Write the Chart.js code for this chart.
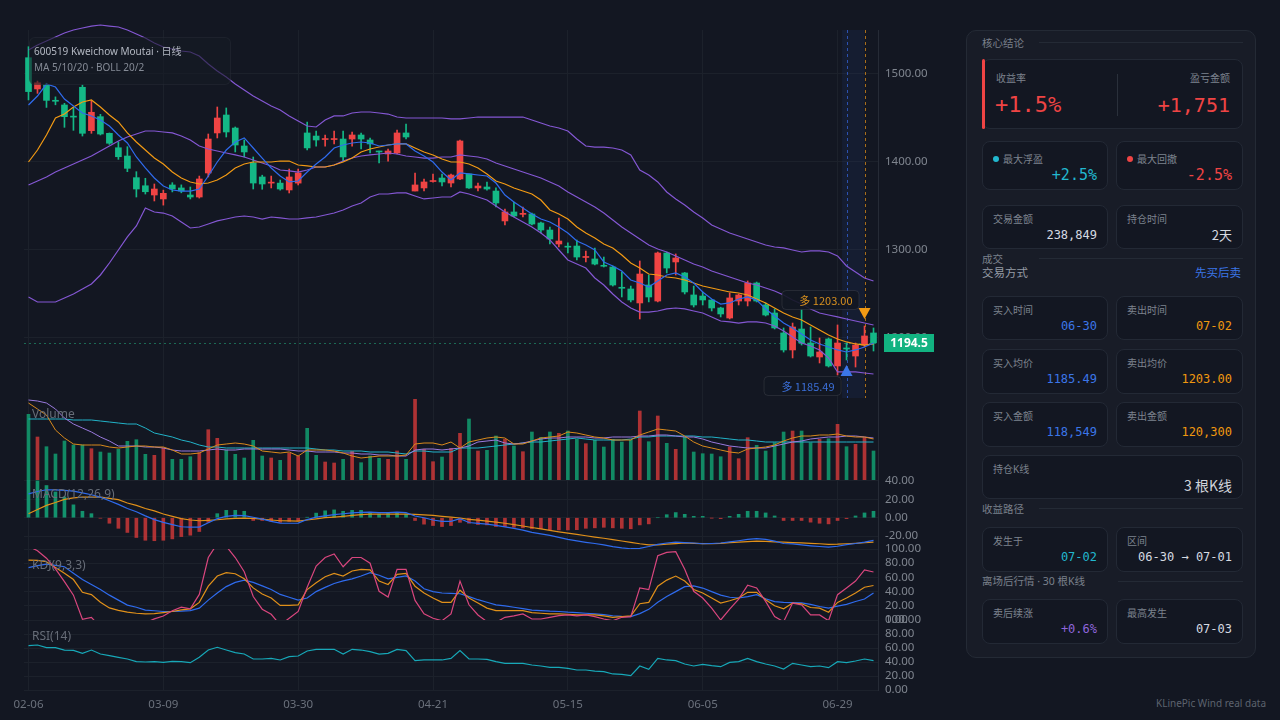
<!DOCTYPE html>
<html>
<head>
<meta charset="utf-8">
<title>600519 Kweichow Moutai 日线</title>
<script src="https://cdn.jsdelivr.net/npm/chart.js@4.4.1/dist/chart.umd.min.js"></script>
<style>
  html, body { margin: 0; padding: 0; }
  body { width: 1280px; height: 720px; background: #131722; overflow: hidden; position: relative;
         font-family: "Noto Sans", "Noto Sans CJK SC", sans-serif; }
  #chart { position: absolute; left: 0; top: 0; }
  .pane-label { position: absolute; left: 32px; font-size: 12px; line-height: 14px; color: #676d78; }
  .title-box { position: absolute; left: 29px; top: 37px; width: 202px; height: 48px; border-radius: 6px;
               background: rgba(22, 26, 36, 0.6); border: 1px solid rgba(255, 255, 255, 0.04); box-sizing: border-box; }
  .title-box div { position: absolute; left: 4px; font-size: 10px; line-height: 14px; white-space: nowrap; }
  #side { position: absolute; left: 966px; top: 30px; width: 290px; height: 628px; box-sizing: border-box;
          background: #181c27; border: 1px solid #242a35; border-radius: 10px; }
  #side .sec { position: absolute; left: 15px; font-size: 10.5px; line-height: 14px; color: #7a808b; white-space: nowrap; }
  #side .rule { position: absolute; height: 1px; background: #242a35; }
  .card { position: absolute; box-sizing: border-box; background: #131722; border: 1px solid #232935; border-radius: 8px; }
  .card .lb { position: absolute; left: 10px; top: 6px; font-size: 10px; line-height: 14px; color: #7d838e; white-space: nowrap; }
  .card .val { position: absolute; right: 10px; top: 21px; font-family: "DejaVu Sans Mono", monospace; font-size: 12px;
               line-height: 16px; color: #d6dae1; white-space: nowrap; }
  .dot { position: absolute; left: 10px; top: 14px; width: 6px; height: 6px; border-radius: 3px; }
  #footer { position: absolute; right: 14px; top: 696px; font-size: 10px; line-height: 14px; color: #5d636e; }
</style>
</head>
<body>
<canvas id="chart" width="960" height="720"></canvas>

<div class="title-box">
  <div style="top:6px;color:#b4b9c3">600519 Kweichow Moutai · 日线</div>
  <div style="top:22px;color:#858b96">MA 5/10/20 · BOLL 20/2</div>
</div>
<div class="pane-label" style="top:407px">Volume</div>
<div class="pane-label" style="top:487px">MACD(12,26,9)</div>
<div class="pane-label" style="top:558px">KDJ(9,3,3)</div>
<div class="pane-label" style="top:629px">RSI(14)</div>

<div id="side">
  <div class="sec" style="top:5px">核心结论</div>
  <div class="rule" style="left:72px;top:11px;width:204px"></div>

  <div class="card" style="left:15px;top:28px;width:261px;height:70px">
    <div style="position:absolute;left:-1px;top:-1px;width:3px;height:70px;background:#ef4444;border-radius:2px"></div>
    <div class="lb" style="left:13px;top:11px">收益率</div>
    <div class="val" style="left:12px;right:auto;top:32px;font-size:22px;line-height:26px;color:#ef4444">+1.5%</div>
    <div style="position:absolute;left:134px;top:14px;width:1px;height:42px;background:#2a303b"></div>
    <div class="lb" style="left:auto;right:12px;top:11px">盈亏金额</div>
    <div class="val" style="right:12px;top:33px;font-size:20px;line-height:24px;color:#ef4444">+1,751</div>
  </div>

  <div class="card" style="left:15px;top:110px;width:126px;height:49px">
    <div class="dot" style="background:#22b8cf"></div>
    <div class="lb" style="left:20px;top:10px">最大浮盈</div>
    <div class="val" style="top:24px;font-size:15px;line-height:18px;color:#22b8cf">+2.5%</div>
  </div>
  <div class="card" style="left:149px;top:110px;width:127px;height:49px">
    <div class="dot" style="background:#ef4444"></div>
    <div class="lb" style="left:20px;top:10px">最大回撤</div>
    <div class="val" style="top:24px;font-size:15px;line-height:18px;color:#ef4444">-2.5%</div>
  </div>

  <div class="card" style="left:15px;top:174px;width:126px;height:44px">
    <div class="lb">交易金额</div><div class="val">238,849</div>
  </div>
  <div class="card" style="left:149px;top:174px;width:127px;height:44px">
    <div class="lb">持仓时间</div><div class="val" style="font-family:'Noto Sans CJK SC',sans-serif;font-size:13px">2天</div>
  </div>

  <div class="sec" style="top:221px">成交</div>
  <div class="rule" style="left:72px;top:227px;width:204px"></div>
  <div class="sec" style="top:235px;font-size:11.5px;color:#959ba5">交易方式</div>
  <div class="sec" style="top:235px;left:auto;right:14px;font-size:11.5px;color:#3b76e8">先买后卖</div>

  <div class="card" style="left:15px;top:265px;width:126px;height:44px">
    <div class="lb">买入时间</div><div class="val" style="color:#3b76e8">06-30</div>
  </div>
  <div class="card" style="left:149px;top:265px;width:127px;height:44px">
    <div class="lb">卖出时间</div><div class="val" style="color:#f0980f">07-02</div>
  </div>

  <div class="card" style="left:15px;top:318px;width:126px;height:45px">
    <div class="lb">买入均价</div><div class="val" style="color:#3b76e8">1185.49</div>
  </div>
  <div class="card" style="left:149px;top:318px;width:127px;height:45px">
    <div class="lb">卖出均价</div><div class="val" style="color:#f0980f">1203.00</div>
  </div>

  <div class="card" style="left:15px;top:371px;width:126px;height:45px">
    <div class="lb">买入金额</div><div class="val" style="color:#3b76e8">118,549</div>
  </div>
  <div class="card" style="left:149px;top:371px;width:127px;height:45px">
    <div class="lb">卖出金额</div><div class="val" style="color:#f0980f">120,300</div>
  </div>

  <div class="card" style="left:15px;top:424px;width:261px;height:44px">
    <div class="lb">持仓K线</div>
    <div class="val" style="font-family:'Noto Sans CJK SC',sans-serif;font-size:14px;line-height:18px;top:20px;color:#cfd3da">3 根K线</div>
  </div>

  <div class="sec" style="top:471px">收益路径</div>
  <div class="rule" style="left:72px;top:477px;width:204px"></div>

  <div class="card" style="left:15px;top:496px;width:126px;height:45px">
    <div class="lb">发生于</div><div class="val" style="color:#22b8cf">07-02</div>
  </div>
  <div class="card" style="left:149px;top:496px;width:127px;height:45px">
    <div class="lb">区间</div><div class="val">06-30 → 07-01</div>
  </div>

  <div class="sec" style="top:543px">离场后行情 · 30 根K线</div>
  <div class="rule" style="left:151px;top:550px;width:125px"></div>

  <div class="card" style="left:15px;top:568px;width:126px;height:45px">
    <div class="lb">卖后续涨</div><div class="val" style="color:#8f66dc">+0.6%</div>
  </div>
  <div class="card" style="left:149px;top:568px;width:127px;height:45px">
    <div class="lb">最高发生</div><div class="val">07-03</div>
  </div>
</div>
<div id="footer">KLinePic Wind real data</div>

<script>
// trading days shown on the chart
const dates = [
  "02-06","02-09","02-10","02-11","02-12","02-13","02-24","02-25","02-26","02-27",
  "03-02","03-03","03-04","03-05","03-06","03-09","03-10","03-11","03-12","03-13",
  "03-16","03-17","03-18","03-19","03-20","03-23","03-24","03-25","03-26","03-27",
  "03-30","03-31","04-01","04-02","04-03","04-07","04-08","04-09","04-10","04-13",
  "04-14","04-15","04-16","04-17","04-20","04-21","04-22","04-23","04-24","04-27",
  "04-28","04-29","04-30","05-06","05-07","05-08","05-11","05-12","05-13","05-14",
  "05-15","05-18","05-19","05-20","05-21","05-22","05-25","05-26","05-27","05-28",
  "05-29","06-01","06-02","06-03","06-04","06-05","06-08","06-09","06-10","06-11",
  "06-12","06-15","06-16","06-17","06-18","06-22","06-23","06-24","06-25","06-26",
  "06-29","06-30","07-01","07-02","07-03"
];

const openP = [
  1518.5,1483,1487.5,1470,1464.8,1452,1484.9,1435.6,1451.5,1432.6,
  1416.2,1406.8,1382.2,1373,1362.5,1358,1373.9,1370.5,1362.5,1360.2,
  1387.5,1433,1453.4,1438.6,1418.2,1398.9,1383,1376,1376,1368.2,
  1376,1433,1429.5,1425.5,1425.5,1426.1,1426.1,1430.7,1425,1411.8,
  1409.1,1410.2,1433,1367,1370.5,1377.8,1381.8,1376.1,1380.7,1386.4,
  1370.5,1371.6,1367,1333,1343.2,1340.5,1340.9,1330.7,1322.7,1306.8,
  1303.9,1304.5,1291.5,1289.8,1282.3,1280.7,1257.3,1255.7,1239.8,1260.2,
  1242,1296.6,1286.4,1273.9,1248.9,1247.7,1243.2,1234.1,1222.7,1242,
  1242,1262.5,1237.5,1228.4,1205.7,1186.4,1210.2,1194.3,1178.4,1198.9,
  1168.2,1188,1179.5,1192,1205.7
];
const highP = [
  1531,1492,1489.5,1474,1466.7,1462,1487.5,1469.7,1454.2,1433,
  1423,1417.4,1389,1381.5,1375,1368,1376.5,1374,1371.6,1384,
  1431.8,1462.5,1461.4,1439.8,1425,1405.7,1385,1384,1379.5,1392,
  1392,1445.5,1435,1430.7,1435,1435,1434,1433,1427.3,1412.5,
  1414.8,1436.4,1443.2,1387.5,1380.7,1386.4,1386.4,1386.4,1425,1386.4,
  1376,1377.3,1370.5,1346.6,1354.5,1348.9,1342,1331.8,1326.1,1336.4,
  1308,1311.4,1298.9,1302.3,1292,1281.8,1275,1259,1287.5,1271.6,
  1297.7,1297.7,1295.5,1274.5,1259,1252.3,1243.5,1235,1251.1,1250,
  1264.8,1263.6,1239.8,1233,1211.4,1217,1231.8,1212.5,1200,1200,
  1214.8,1194.3,1194.3,1213.6,1211.4
];
const lowP = [
  1470.5,1478,1462,1465,1439.4,1436,1429.5,1432.6,1430.7,1420,
  1403,1389,1360.2,1363.6,1355.7,1351,1366,1365,1358,1359,
  1383,1427.3,1428.4,1411.4,1405.7,1369.3,1369,1370.5,1368,1364.8,
  1373.9,1413.6,1418,1418,1420.5,1401,1418,1414.8,1410.2,1399,
  1401,1409.1,1426.1,1367,1367,1377,1372.7,1371.6,1380,1370,
  1367,1368,1348.9,1328.4,1337.5,1337.5,1328.4,1319.3,1306.8,1303.4,
  1296.6,1288.6,1286.4,1283,1280.7,1259,1246.6,1241,1221.6,1241,
  1241,1273.9,1271.6,1250,1235.2,1237.5,1230.7,1223.9,1221.6,1237.5,
  1236.4,1240.9,1225,1210.2,1184,1177.3,1192,1178.4,1171.6,1167,
  1158,1175,1167,1189.8,1185.2
];
const closeP = [
  1480,1490,1470,1469,1451.5,1451,1432.6,1456.5,1431.8,1421.3,
  1406,1392.8,1369.3,1366.2,1369.3,1364.4,1369.3,1367,1360.2,1380.7,
  1426.1,1450,1434.1,1419.3,1411.4,1376.1,1375,1377,1369.3,1383,
  1387.5,1416,1425,1426,1426.5,1405.7,1430.7,1426.1,1420.5,1411.4,
  1412.5,1433,1428.4,1373.9,1377.3,1378.4,1377.3,1385.2,1423.9,1370.5,
  1372.7,1369.3,1353.4,1343.2,1338.6,1341.5,1329.5,1322.7,1312.5,1310.2,
  1303.2,1292,1292.5,1284,1281.5,1260.2,1256.5,1243.2,1272.7,1246.6,
  1296.6,1279.5,1290.9,1252.3,1237.5,1243.2,1234.1,1227.3,1245.5,1248.9,
  1262.5,1242,1226.1,1211.4,1186.4,1212.5,1194.3,1179.5,1184.1,1168.2,
  1194.3,1187.5,1192,1202.3,1194.5
];

const ma5 = [
  1464.8,1475,1488.6,1485.2,1471.6,1463.6,1455.7,1452.3,1447.7,1440.9,
  1430.7,1421.6,1405.7,1393.2,1381.8,1372.7,1368.2,1367,1367,1369.3,
  1384.1,1400,1413.6,1422.7,1427.3,1415.9,1404.5,1393.2,1384.1,1377.3,
  1378.4,1388.6,1397.7,1405.7,1415.9,1419.3,1421.6,1422.7,1421.6,1418.2,
  1419.3,1420.5,1420.5,1412.5,1406.8,1400,1388.6,1379.5,1387.5,1386.4,
  1385.2,1384.1,1376.1,1362.5,1354.5,1347.7,1340.9,1335.2,1331.8,1326.1,
  1319.3,1310.2,1305.7,1300,1286.4,1281.8,1276.1,1265.9,1262.5,1258,
  1264.8,1271.6,1273.9,1269.3,1262.5,1252.3,1244.3,1238.6,1239.8,1244.3,
  1246.6,1243.2,1233,1225,1217,1211.4,1204.5,1197.7,1193.2,1189.8,
  1186.4,1184.1,1186.4,1189.8,1194.3
];
const ma10 = [
  1400,1413.6,1430.7,1450,1454.5,1462.5,1468.2,1470.5,1462.5,1453.4,
  1445.5,1433,1422.7,1413.6,1404.5,1397.7,1388.6,1381.8,1377.3,1375,
  1376.1,1379.5,1385.2,1393.2,1397.7,1400,1400,1400,1401.1,1401.1,
  1396.6,1395.5,1394.3,1394.3,1396.6,1400,1404.5,1411.4,1414.8,1417,
  1419.3,1420.5,1420.5,1415.9,1411.4,1408,1403.4,1400,1400,1397.7,
  1393.2,1386.4,1378.4,1375,1370.5,1367,1363.6,1356.8,1345.5,1340.9,
  1335.2,1326.1,1319.3,1313.6,1306.8,1302.3,1294.3,1285.2,1279.5,1272.7,
  1271.6,1269.3,1268.2,1265.9,1262.5,1259.1,1256.8,1254.5,1252.3,1251.1,
  1248.9,1244.3,1239.8,1234.1,1228.4,1223.9,1220.5,1214.8,1209.1,1203.4,
  1198.9,1195.5,1193.2,1192,1193.2
];
const bollMid = [
  1373.9,1378.4,1383,1388.6,1393.2,1397.7,1402.3,1406.8,1412.5,1418.2,
  1423.9,1428.4,1431.8,1435.2,1435.2,1434.1,1433,1429.5,1425,1418.2,
  1414.8,1412.5,1410.2,1408,1405.7,1402.3,1398.9,1395.5,1390.9,1389.8,
  1388.6,1390.9,1394.3,1394.3,1396.6,1401.1,1404.5,1406.8,1408,1409.1,
  1410.2,1409.1,1406.8,1405.7,1404.5,1404.5,1405.7,1405.7,1408,1406.8,
  1405.7,1403.4,1398.9,1395.5,1392,1388.6,1385.2,1381.8,1377.3,1372.7,
  1365.9,1360.2,1354.5,1348.9,1342,1334.1,1326.1,1319.3,1312.5,1305.7,
  1301.1,1297.7,1293.2,1288.6,1284.1,1280.7,1276.1,1272.7,1269.3,1265.9,
  1262.5,1260.2,1256.8,1253.4,1248.9,1243.2,1238.6,1233,1228.4,1226.1,
  1223.9,1221.6,1219.3,1217,1214.8
];
const bollUp = [
  1527.3,1533,1537.5,1542,1546.6,1550,1552.3,1554.5,1555.7,1554.5,
  1553.4,1550,1545.5,1540.9,1535.2,1530.7,1528.4,1526.1,1525,1520.5,
  1511.4,1503.4,1496.6,1488.6,1481.8,1475,1469.3,1463.6,1459.1,1452.3,
  1446.6,1440.9,1439.8,1447.7,1452.3,1452.3,1455.7,1456.8,1456.8,1455.7,
  1454.5,1451.1,1450,1450,1450,1450,1450,1448.9,1448.9,1450,
  1451.1,1451.1,1451.1,1451.1,1451.1,1451.1,1447.7,1444.3,1440.9,1438.6,
  1435.2,1426.1,1418.2,1417,1417,1415.9,1413.6,1408,1390.9,1385.2,
  1377.3,1365.9,1358,1351.1,1343.2,1336.4,1328.4,1323.9,1319.3,1315.9,
  1312.5,1309.1,1305.7,1303.4,1302.3,1300,1297.7,1298.9,1298.9,1297.7,
  1293.2,1281.8,1275,1268.2,1264.8
];
const bollLow = [
  1246.6,1240.9,1240.9,1240.9,1245.5,1250,1255.7,1261.4,1271.6,1285.2,
  1300,1314.8,1327.3,1347.7,1343.2,1342,1338.6,1331.8,1325,1326.1,
  1329.5,1333,1335.2,1337.5,1338.6,1337.5,1335.2,1337.5,1336.4,1335.2,
  1335.2,1336.4,1337.5,1339.8,1342,1345.5,1350,1353.4,1360.2,1363.6,
  1363.6,1364.8,1364.8,1361.4,1358,1359.1,1360.2,1360.2,1365.9,1363.6,
  1360.2,1356.8,1350,1343.2,1337.5,1331.8,1326.1,1319.3,1311.4,1300,
  1288.6,1284.1,1279.5,1268.2,1260.2,1250,1240.9,1234.1,1229.5,1229.5,
  1230.7,1233,1234.1,1233,1230.7,1228.4,1223.9,1219.3,1218.2,1217,
  1218.2,1218.2,1217,1213.6,1208,1201.1,1194.3,1190.9,1186.4,1177.3,
  1161.4,1161.4,1161.4,1160.2,1159.1
];

const volume = [
  65.7,43,33.3,26,39,35,35,31.3,28,27,
  30.7,38.7,40.3,25.7,24.7,32,20.7,20.7,23.3,27.3,
  50.3,41.7,30,25.7,22,39.7,24,22,19.7,26.7,
  24,51.7,24.7,18,17,20.7,28.7,17.3,24,21.7,
  20.7,29,20.7,80.7,30.7,18.3,23,31.7,46.7,61,
  29,29.7,44,40.7,34,28.3,48,42.7,48,46.7,
  49,40.7,36.3,39.7,33,40.7,38,39.7,69,38.3,
  64,36.7,30.7,43,28,26.3,26,23.3,33,21.3,
  42.3,34.7,29,37.3,48,49,49,37.3,40.7,41.3,
  55.7,33.3,35.7,42.3,29
];
const volMa5 = [
  77,71,65,50,42,36,35,35,35,33,
  32,33,34,34,33,33,30,26,26,27,
  31,35,36,37,36,34,29,28,27,28,
  24,30,30,30,29,27,24,22,23,24,
  24,24,25,36,37,37,35,38,32,38,
  40,42,43,42,36,36,39,42,43,44,
  48,47,45,43,42,40,40,40,45,48,
  51,50,49,44,38,34,32,30,28,27,
  31,32,33,35,39,42,44,44,45,45,
  46,44,43,43,41
];
const volMa10 = [
  80,79,77,71,62,56,52,48,43,39,
  34,34,34,33,33,32,30,29,29,29,
  30,31,30,30,31,31,31,31,31,30,
  29,29,28,28,28,27,27,26,26,25,
  25,24,24,30,31,31,30,31,32,34,
  38,39,40,37,36,37,39,41,42,42,
  43,43,43,42,42,43,43,43,44,44,
  45,45,44,43,43,41,38,36,34,33,
  32,32,32,34,36,38,39,41,42,43,
  43,44,44,43,42
];
const volMa20 = [
  61,61,61,61,61,60,60,60,59,58,
  57,56,56,52,47,45,43,40,38,35,
  33,33,32,32,32,32,32,32,32,32,
  32,32,31,30,30,29,29,29,28,28,
  28,27,26,29,29,28,28,28,32,32,
  32,33,34,35,36,37,38,38,39,40,
  41,42,41,40,40,40,40,41,43,43,
  44,44,44,44,44,43,43,42,41,40,
  40,39,38,38,38,38,38,38,38,38,
  38,38,38,38,38
];

const dif = [
  26,28.5,30.4,30.2,29.8,29,27,25,22.4,18.5,
  14.5,10,6.5,2,-2,-5,-7.5,-9.8,-10.2,-10.2,
  -5.5,-1,1.5,2.5,2.2,0.5,-1.6,-4,-5.9,-6,
  -5.9,-2,0.7,2,3.3,4.3,5.3,5.8,6,5.5,
  5.6,6,5.5,1.9,0,-2.5,-4,-4,-1,-5.2,
  -6.2,-7,-8.3,-10,-11.5,-13.5,-15.9,-17.5,-19.2,-21.3,
  -23.5,-25.2,-26.7,-28,-29.6,-31.5,-32.8,-33.7,-33.3,-31.3,
  -29,-27.5,-26.5,-27,-27.5,-28.3,-28,-27.5,-26.3,-25,
  -23.5,-22.8,-23.6,-25.5,-28,-28.5,-29.5,-30.5,-31.3,-32,
  -31,-29.3,-28,-26.5,-24.7
];
const dea = [
  4.3,9,13.4,16.5,19.9,21.5,22.4,22.4,22.4,21,
  19.6,16,13.4,10,7.5,4,1.5,-1,-2.5,-3.3,
  -2.8,-2.2,-1.2,-0.8,-0.4,-0.8,-1.5,-2.5,-3.3,-3.5,
  -3.8,-2.5,-1.2,0,0.7,1.5,2.5,3.3,3.9,3.9,
  3.9,3.9,3.8,3.6,3,2.5,1.5,0.6,-0.3,-1.7,
  -2.6,-3.7,-4.8,-6,-7.6,-9,-10.6,-12.2,-13.8,-15.3,
  -16.8,-18.2,-19.6,-21,-22.3,-23.8,-25.3,-26.7,-28.3,-29.5,
  -29.5,-28.8,-28.2,-27.5,-27.8,-28.1,-28.3,-27.8,-27,-26.5,
  -26,-25.5,-25.7,-26.2,-26.5,-27,-27.4,-27.8,-28.3,-29,
  -28.8,-28.3,-27.8,-27.2,-26.5
];
const macdHist = [
  41,40,35,28,22.6,14,7,4.4,-0.5,-6,
  -11.5,-16,-21.5,-24.5,-25,-24.5,-23,-20.5,-19,-15,
  -5,4.4,8,8,7,-3,-3,-4,-5,-4,
  -3.5,0.5,5,7.5,8.5,7,8,8,6,4,
  5,5,4,-3,-7,-8.5,-9.6,-8.5,-5,-6,
  -7.4,-7.8,-9.6,-9.6,-10.4,-11,-12,-12,-13,-13.3,
  -13.3,-13,-11.5,-11,-10.4,-11,-11.5,-12,-7.8,-6.7,
  0,3.3,5.6,3.7,1.5,1.5,-0.3,-1,1.5,3.7,
  7,7,5.2,1.9,-3,-3,-3,-4.8,-6,-6.7,
  -3,-1,1.9,5.2,7
];

const kLine = [
  84.3,84,82,74,66,57,39,35.7,25,17,
  13.5,11,9.5,8.6,9,10.5,12,14.3,15.7,24.8,
  47.6,62,66.7,65.2,58.1,45.2,36.7,31,20.5,20.5,
  21.4,42.9,52.4,61,65.7,62,69,71.4,70.5,54.8,
  50,64.3,65.7,47.6,38.1,31,24.8,24.8,41.9,31,
  23.8,16.7,13.3,13.3,13.3,13.3,10.5,9.5,8.6,8.6,
  8.1,7.1,7.1,7.1,5.7,3.8,4.8,5.7,22.9,24.8,
  47.6,56.2,61.9,54.8,42.9,38.1,31,23.8,27.1,31,
  39,39,28.6,20,15.7,23.8,22.9,17.6,16.7,11,
  24.8,31,38.1,46.2,48.6
];
const dLine = [
  73.8,76.5,78.6,77,75,66,57,50,43,35,
  28,21,18,14,13,12,12,12.5,13.3,16.7,
  28,38,47,53,56,53,48,43,36,32,
  28,31,40,46,51.4,55,58,62,66.7,63,
  58,60,62,55,44,40,38,37.5,37,33,
  28.6,25,21.4,20,18,16,14,13.3,12.5,12,
  11,10.5,9.5,8.5,7.5,6,5.2,4.8,9,15,
  25,33,40,47,48,45,40,35,32,31,
  33,35.7,30,26,24.8,24.5,24,22,19,16.7,
  19.5,22,26,29.5,38
];
const jLine = [
  103.8,97.6,87,72,54,35,1,3.8,-10.5,-16.7,
  -15.2,-11.9,-6,-3.8,1.5,5.7,13,18,15.7,36,
  88,107.6,103.8,88,68,33,15.2,8,-7.1,2.4,
  12,46,76,88,93,75,88,88,80,40.5,
  32.4,71.4,71.4,27.6,8.6,2.4,-1,8.6,54.8,21.4,
  7.1,-2.4,-3.3,3.8,5.7,8.6,1.4,1.4,3.8,6.2,
  7.1,5.7,7.1,4.8,1.4,-1,3.8,4.8,45.2,42.9,
  90.5,95.2,96.2,71.4,40.5,31,16.7,0,15.2,29.5,
  49,45.2,26.2,4.8,-2.4,23.8,21.4,7.1,7.1,-1,
  35.7,45.2,54.8,70.5,67.6
];
const rsi14 = [
  63.3,64.3,60.5,60.5,57.1,56.7,52.4,57.1,51.4,49,
  46.7,44.3,40.5,40,40.5,39.5,41,40.5,39,46.7,
  57.1,61,57.1,53.3,51.4,44.3,44.3,45.2,42.9,47.6,
  48.6,55.7,58.1,58.1,58.1,51.4,58.1,57.1,54.8,51.4,
  52.4,58.1,56.2,41.9,42.9,42.9,42.9,45.2,56.2,44.3,
  44.3,43.8,40.5,38.1,38.1,38.1,35.7,34.3,32.4,32.4,
  31,28.6,28.6,27.1,26.2,22.9,22.4,20.5,34.3,29.5,
  45.2,42.9,41.9,37.1,34.3,36.7,34.8,33.3,39.5,40.5,
  45.2,40.5,37.1,34.3,30,38.1,35.7,33.3,34.3,31.9,
  40.5,39,41.4,44.3,41.9
];

const priceTicks = [1200, 1300, 1400, 1500];
const macdTicks = [-20, 0, 20, 40];
const oscTicks = [0, 20, 40, 60, 80, 100];

const buyIdx = 91, sellIdx = 93;
const buyPrice = 1185.49, sellPrice = 1203.00;
const lastPrice = 1194.5;
const labelEvery = 15;

const series = { openP, highP, lowP, closeP, ma5, ma10, bollMid, bollUp, bollLow, volume, volMa5, volMa10, volMa20,
  dif, dea, macdHist, kLine, dLine, jLine, rsi14 };
for (const [name, arr] of Object.entries(series)) {
  if (arr.length !== dates.length) throw new Error(name + " has " + arr.length + " values");
}

const RED = "#ef4444";
const GREEN = "#14b886";
const GRID = "#1c212b";

const isUp = closeP.map((c, i) => c >= openP[i]);
const candleColors = isUp.map((u) => (u ? RED : GREEN));
const volColors = isUp.map((u) => (u ? "rgba(214,58,58,0.8)" : "rgba(18,158,112,0.85)"));
const histColors = macdHist.map((v) => (v >= 0 ? "rgba(20,168,122,0.85)" : "rgba(214,58,58,0.8)"));
const bodies = openP.map((o, i) => [Math.min(o, closeP[i]), Math.max(o, closeP[i])]);
const wicks = lowP.map((l, i) => [l, highP[i]]);

Chart.defaults.font.family = '"Noto Sans", sans-serif';
Chart.defaults.color = "#7f858f";

const line = (data, color, axis, extra = {}) => ({
  type: "line", data, yAxisID: axis, borderColor: color, borderWidth: 1.2,
  pointRadius: 0, tension: 0, ...extra,
});
const bars = (data, colors, axis, thickness, extra = {}) => ({
  type: "bar", data, yAxisID: axis, backgroundColor: colors, barThickness: thickness,
  grouped: false, ...extra,
});

const fixedTicks = (list) => (scale) => { scale.ticks = list.map((v) => ({ value: v })); };
const paneAxis = (weight, min, max, ticks) => ({
  type: "linear", position: "right", stack: "panes", stackWeight: weight, min, max,
  afterBuildTicks: ticks ? fixedTicks(ticks) : undefined,
  afterFit: (s) => { s.width = 82; },
  grid: { color: GRID, drawTicks: false, display: !!ticks },
  border: { color: "#262b36" },
  ticks: { display: !!ticks, autoSkip: false, padding: 7, font: { size: 11.5 }, color: "#7f858f",
           callback: (v) => Number(v).toFixed(2) },
});

const overlay = {
  id: "overlay",
  beforeDatasetsDraw(chart) {
    const { ctx, scales: { x, y } } = chart;
    const xb = x.getPixelForValue(buyIdx);
    const xs = x.getPixelForValue(sellIdx);
    ctx.save();
    ctx.fillStyle = "rgba(38,60,125,0.17)";
    ctx.fillRect(xb - 4.5, y.top, xs - xb + 4.5, y.bottom - y.top);
    ctx.lineWidth = 1;
    ctx.setLineDash([3, 3]);
    ctx.strokeStyle = "rgba(52,100,220,0.75)";
    ctx.beginPath(); ctx.moveTo(Math.round(xb) + 0.5, y.top); ctx.lineTo(Math.round(xb) + 0.5, y.bottom); ctx.stroke();
    ctx.strokeStyle = "rgba(220,140,25,0.75)";
    ctx.beginPath(); ctx.moveTo(Math.round(xs) + 0.5, y.top); ctx.lineTo(Math.round(xs) + 0.5, y.bottom); ctx.stroke();
    const yp = Math.round(y.getPixelForValue(lastPrice)) + 0.5;
    ctx.setLineDash([2, 3]);
    ctx.strokeStyle = "#1b6a54";
    ctx.beginPath(); ctx.moveTo(x.left, yp); ctx.lineTo(x.right, yp); ctx.stroke();
    ctx.restore();
  },
  afterDraw(chart) {
    const { ctx, scales: { x, y } } = chart;
    ctx.save();
    // last price tag
    const yp = y.getPixelForValue(lastPrice);
    ctx.fillStyle = "#12b381";
    ctx.fillRect(884, Math.round(yp) - 9, 50, 18);
    ctx.fillStyle = "#ffffff";
    ctx.font = 'bold 12px "Noto Sans", sans-serif';
    ctx.textAlign = "center";
    ctx.textBaseline = "middle";
    ctx.fillText(lastPrice.toFixed(1), 909, Math.round(yp) + 0.5);

    const box = (right, top, text, color) => {
      const w = 77, h = 19;
      ctx.fillStyle = "rgba(19,23,34,0.9)";
      ctx.strokeStyle = "rgba(255,255,255,0.09)";
      ctx.lineWidth = 1;
      ctx.beginPath();
      ctx.roundRect(right - w + 0.5, top + 0.5, w, h, 4);
      ctx.fill(); ctx.stroke();
      ctx.fillStyle = color;
      ctx.font = '11px "Noto Sans CJK SC", sans-serif';
      ctx.textAlign = "right";
      ctx.textBaseline = "middle";
      ctx.fillText(text, right - 6, top + h / 2 + 1);
    };

    // buy marker
    const xb = x.getPixelForValue(buyIdx);
    const yl = y.getPixelForValue(lowP[buyIdx]);
    ctx.fillStyle = "#3b76e8";
    ctx.beginPath();
    ctx.moveTo(xb, yl + 5); ctx.lineTo(xb + 6, yl + 16); ctx.lineTo(xb - 6, yl + 16); ctx.closePath(); ctx.fill();
    box(xb - 6, yl + 16, "多 " + buyPrice.toFixed(2), "#3b6fd8");

    // sell marker
    const xs = x.getPixelForValue(sellIdx);
    const yh = y.getPixelForValue(highP[sellIdx]);
    ctx.fillStyle = "#f29a14";
    ctx.beginPath();
    ctx.moveTo(xs, yh - 7); ctx.lineTo(xs + 6, yh - 18); ctx.lineTo(xs - 6, yh - 18); ctx.closePath(); ctx.fill();
    box(xs - 6, yh - 36, "多 " + sellPrice.toFixed(2), "#d9911f");
    ctx.restore();
  },
};

new Chart(document.getElementById("chart"), {
  type: "bar",
  data: {
    labels: dates,
    datasets: [
      line(ma5, "#2f6bed", "y"),
      line(ma10, "#f29a14", "y"),
      line(bollMid, "#8457d3", "y"),
      line(bollUp, "#8457d3", "y", { clip: false }),
      line(bollLow, "#8457d3", "y"),
      bars(bodies, candleColors, "y", 6, { minBarLength: 1 }),
      bars(wicks, candleColors, "y", 1),
      line(volMa5, "#d98a1c", "vol", { borderWidth: 1 }),
      line(volMa10, "#9a7ade", "vol", { borderWidth: 1 }),
      line(volMa20, "#22b3c8", "vol", { borderWidth: 1 }),
      bars(volume, volColors, "vol", 3),
      line(dif, "#2f6bed", "macd"),
      line(dea, "#e0901a", "macd"),
      bars(macdHist, histColors, "macd", 3),
      line(jLine, "#d9467e", "kdj"),
      line(kLine, "#e0901a", "kdj"),
      line(dLine, "#2f6bed", "kdj"),
      line(rsi14, "#17a8b8", "rsi"),
    ],
  },
  options: {
    responsive: false,
    animation: false,
    devicePixelRatio: 1,
    layout: { padding: { left: 24, top: 30, right: 0, bottom: 0 } },
    plugins: { legend: { display: false }, tooltip: { enabled: false } },
    scales: {
      x: {
        type: "category",
        offset: true,
        afterFit: (s) => { s.height = 30; },
        grid: { offset: false, drawTicks: false, color: (c) => (c.index % labelEvery === 0 ? GRID : "transparent") },
        border: { display: false },
        ticks: {
          autoSkip: false, maxRotation: 0, padding: 8, font: { size: 11.5 }, color: "#6b717c",
          callback: (v, i) => (i % labelEvery === 0 ? dates[i] : ""),
        },
      },
      y: paneAxis(368, 1131.8, 1550, priceTicks),
      vol: paneAxis(82, 0, 82, null),
      macd: paneAxis(69, -34, 41, macdTicks),
      kdj: paneAxis(71, 0, 100, oscTicks),
      rsi: paneAxis(70, 0, 100, oscTicks),
    },
  },
  plugins: [overlay],
});
</script>
</body>
</html>
